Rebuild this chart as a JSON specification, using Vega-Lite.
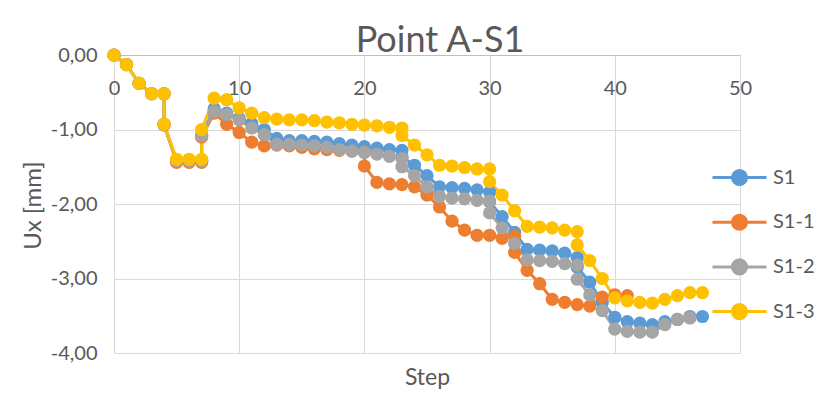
{
  "$schema": "https://vega.github.io/schema/vega-lite/v6.json",
  "autosize": {"type": "none"},
  "width": 626,
  "height": 298,
  "padding": {"left": 114, "top": 55, "right": 89, "bottom": 61},
  "background": "white",
  "title": {
    "text": "Point A-S1",
    "fontSize": 36,
    "font": "Lato",
    "fontWeight": "normal",
    "color": "#595959",
    "anchor": "middle",
    "baseline": "middle",
    "offset": -32,
    "dx": 13
  },
  "config": {
    "view": {"stroke": null},
    "font": "Lato",
    "axis": {"labelFont": "Lato", "titleFont": "Lato"},
    "legend": {"labelFont": "Lato"}
  },
  "data": {
    "values": [
      {"s": "S1", "x": 0, "y": 0}, {"s": "S1", "x": 1, "y": -0.13}, {"s": "S1", "x": 2, "y": -0.38}, {"s": "S1", "x": 3, "y": -0.52},
      {"s": "S1", "x": 4, "y": -0.52}, {"s": "S1", "x": 4, "y": -0.93}, {"s": "S1", "x": 5, "y": -1.42}, {"s": "S1", "x": 6, "y": -1.42},
      {"s": "S1", "x": 7, "y": -1.42}, {"s": "S1", "x": 7, "y": -1.08}, {"s": "S1", "x": 8, "y": -0.72}, {"s": "S1", "x": 9, "y": -0.78},
      {"s": "S1", "x": 10, "y": -0.85}, {"s": "S1", "x": 11, "y": -0.92}, {"s": "S1", "x": 12, "y": -1.0}, {"s": "S1", "x": 13, "y": -1.12},
      {"s": "S1", "x": 14, "y": -1.15}, {"s": "S1", "x": 15, "y": -1.15}, {"s": "S1", "x": 16, "y": -1.16}, {"s": "S1", "x": 17, "y": -1.17},
      {"s": "S1", "x": 18, "y": -1.19}, {"s": "S1", "x": 19, "y": -1.21}, {"s": "S1", "x": 20, "y": -1.23}, {"s": "S1", "x": 21, "y": -1.25},
      {"s": "S1", "x": 22, "y": -1.27}, {"s": "S1", "x": 23, "y": -1.28}, {"s": "S1", "x": 23, "y": -1.37}, {"s": "S1", "x": 24, "y": -1.48},
      {"s": "S1", "x": 25, "y": -1.62}, {"s": "S1", "x": 26, "y": -1.77}, {"s": "S1", "x": 27, "y": -1.78}, {"s": "S1", "x": 28, "y": -1.79},
      {"s": "S1", "x": 29, "y": -1.81}, {"s": "S1", "x": 30, "y": -1.84}, {"s": "S1", "x": 30, "y": -1.97}, {"s": "S1", "x": 31, "y": -2.17},
      {"s": "S1", "x": 32, "y": -2.38}, {"s": "S1", "x": 33, "y": -2.61}, {"s": "S1", "x": 34, "y": -2.62}, {"s": "S1", "x": 35, "y": -2.63},
      {"s": "S1", "x": 36, "y": -2.66}, {"s": "S1", "x": 37, "y": -2.72}, {"s": "S1", "x": 37, "y": -2.85}, {"s": "S1", "x": 38, "y": -3.05},
      {"s": "S1", "x": 39, "y": -3.32}, {"s": "S1", "x": 40, "y": -3.52}, {"s": "S1", "x": 41, "y": -3.58}, {"s": "S1", "x": 42, "y": -3.6},
      {"s": "S1", "x": 43, "y": -3.62}, {"s": "S1", "x": 44, "y": -3.58}, {"s": "S1", "x": 45, "y": -3.55}, {"s": "S1", "x": 46, "y": -3.51},
      {"s": "S1", "x": 47, "y": -3.51},

      {"s": "S1-1", "x": 0, "y": 0}, {"s": "S1-1", "x": 1, "y": -0.13}, {"s": "S1-1", "x": 2, "y": -0.38}, {"s": "S1-1", "x": 3, "y": -0.52},
      {"s": "S1-1", "x": 4, "y": -0.52}, {"s": "S1-1", "x": 4, "y": -0.94}, {"s": "S1-1", "x": 5, "y": -1.44}, {"s": "S1-1", "x": 6, "y": -1.44},
      {"s": "S1-1", "x": 7, "y": -1.44}, {"s": "S1-1", "x": 7, "y": -1.1}, {"s": "S1-1", "x": 8, "y": -0.78}, {"s": "S1-1", "x": 9, "y": -0.93},
      {"s": "S1-1", "x": 10, "y": -1.04}, {"s": "S1-1", "x": 11, "y": -1.17}, {"s": "S1-1", "x": 12, "y": -1.22}, {"s": "S1-1", "x": 13, "y": -1.21},
      {"s": "S1-1", "x": 14, "y": -1.22}, {"s": "S1-1", "x": 15, "y": -1.24}, {"s": "S1-1", "x": 16, "y": -1.26}, {"s": "S1-1", "x": 17, "y": -1.27},
      {"s": "S1-1", "x": 18, "y": -1.28}, {"s": "S1-1", "x": 19, "y": -1.29}, {"s": "S1-1", "x": 20, "y": -1.3}, {"s": "S1-1", "x": 20, "y": -1.49},
      {"s": "S1-1", "x": 21, "y": -1.71}, {"s": "S1-1", "x": 22, "y": -1.73}, {"s": "S1-1", "x": 23, "y": -1.74}, {"s": "S1-1", "x": 24, "y": -1.77},
      {"s": "S1-1", "x": 25, "y": -1.88}, {"s": "S1-1", "x": 26, "y": -2.04}, {"s": "S1-1", "x": 27, "y": -2.23}, {"s": "S1-1", "x": 28, "y": -2.35},
      {"s": "S1-1", "x": 29, "y": -2.42}, {"s": "S1-1", "x": 30, "y": -2.42}, {"s": "S1-1", "x": 31, "y": -2.46}, {"s": "S1-1", "x": 32, "y": -2.43},
      {"s": "S1-1", "x": 32, "y": -2.65}, {"s": "S1-1", "x": 33, "y": -2.89}, {"s": "S1-1", "x": 34, "y": -3.07}, {"s": "S1-1", "x": 35, "y": -3.28},
      {"s": "S1-1", "x": 36, "y": -3.32}, {"s": "S1-1", "x": 37, "y": -3.35}, {"s": "S1-1", "x": 38, "y": -3.37}, {"s": "S1-1", "x": 39, "y": -3.25},
      {"s": "S1-1", "x": 40, "y": -3.22}, {"s": "S1-1", "x": 41, "y": -3.23},

      {"s": "S1-2", "x": 0, "y": 0}, {"s": "S1-2", "x": 1, "y": -0.13}, {"s": "S1-2", "x": 2, "y": -0.38}, {"s": "S1-2", "x": 3, "y": -0.52},
      {"s": "S1-2", "x": 4, "y": -0.52}, {"s": "S1-2", "x": 4, "y": -0.93}, {"s": "S1-2", "x": 5, "y": -1.42}, {"s": "S1-2", "x": 6, "y": -1.42},
      {"s": "S1-2", "x": 7, "y": -1.42}, {"s": "S1-2", "x": 7, "y": -1.08}, {"s": "S1-2", "x": 8, "y": -0.76}, {"s": "S1-2", "x": 9, "y": -0.8},
      {"s": "S1-2", "x": 10, "y": -0.87}, {"s": "S1-2", "x": 11, "y": -0.98}, {"s": "S1-2", "x": 12, "y": -1.07}, {"s": "S1-2", "x": 13, "y": -1.2},
      {"s": "S1-2", "x": 14, "y": -1.2}, {"s": "S1-2", "x": 15, "y": -1.21}, {"s": "S1-2", "x": 16, "y": -1.22}, {"s": "S1-2", "x": 17, "y": -1.24},
      {"s": "S1-2", "x": 18, "y": -1.27}, {"s": "S1-2", "x": 19, "y": -1.29}, {"s": "S1-2", "x": 20, "y": -1.31}, {"s": "S1-2", "x": 21, "y": -1.33},
      {"s": "S1-2", "x": 22, "y": -1.36}, {"s": "S1-2", "x": 23, "y": -1.39}, {"s": "S1-2", "x": 23, "y": -1.5}, {"s": "S1-2", "x": 24, "y": -1.62},
      {"s": "S1-2", "x": 25, "y": -1.77}, {"s": "S1-2", "x": 26, "y": -1.9}, {"s": "S1-2", "x": 27, "y": -1.92}, {"s": "S1-2", "x": 28, "y": -1.93},
      {"s": "S1-2", "x": 29, "y": -1.95}, {"s": "S1-2", "x": 30, "y": -1.96}, {"s": "S1-2", "x": 30, "y": -2.12}, {"s": "S1-2", "x": 31, "y": -2.32},
      {"s": "S1-2", "x": 32, "y": -2.53}, {"s": "S1-2", "x": 33, "y": -2.75}, {"s": "S1-2", "x": 34, "y": -2.76}, {"s": "S1-2", "x": 35, "y": -2.77},
      {"s": "S1-2", "x": 36, "y": -2.8}, {"s": "S1-2", "x": 37, "y": -2.82}, {"s": "S1-2", "x": 37, "y": -3.01}, {"s": "S1-2", "x": 38, "y": -3.22},
      {"s": "S1-2", "x": 39, "y": -3.43}, {"s": "S1-2", "x": 40, "y": -3.68}, {"s": "S1-2", "x": 41, "y": -3.71}, {"s": "S1-2", "x": 42, "y": -3.72},
      {"s": "S1-2", "x": 43, "y": -3.72}, {"s": "S1-2", "x": 44, "y": -3.62}, {"s": "S1-2", "x": 45, "y": -3.55}, {"s": "S1-2", "x": 46, "y": -3.53},

      {"s": "S1-3", "x": 0, "y": 0}, {"s": "S1-3", "x": 1, "y": -0.13}, {"s": "S1-3", "x": 2, "y": -0.38}, {"s": "S1-3", "x": 3, "y": -0.52},
      {"s": "S1-3", "x": 4, "y": -0.52}, {"s": "S1-3", "x": 4, "y": -0.93}, {"s": "S1-3", "x": 5, "y": -1.4}, {"s": "S1-3", "x": 6, "y": -1.4},
      {"s": "S1-3", "x": 7, "y": -1.4}, {"s": "S1-3", "x": 7, "y": -1.0}, {"s": "S1-3", "x": 8, "y": -0.58}, {"s": "S1-3", "x": 9, "y": -0.6},
      {"s": "S1-3", "x": 10, "y": -0.71}, {"s": "S1-3", "x": 11, "y": -0.78}, {"s": "S1-3", "x": 12, "y": -0.84}, {"s": "S1-3", "x": 13, "y": -0.86},
      {"s": "S1-3", "x": 14, "y": -0.87}, {"s": "S1-3", "x": 15, "y": -0.87}, {"s": "S1-3", "x": 16, "y": -0.88}, {"s": "S1-3", "x": 17, "y": -0.9},
      {"s": "S1-3", "x": 18, "y": -0.91}, {"s": "S1-3", "x": 19, "y": -0.93}, {"s": "S1-3", "x": 20, "y": -0.94}, {"s": "S1-3", "x": 21, "y": -0.95},
      {"s": "S1-3", "x": 22, "y": -0.97}, {"s": "S1-3", "x": 23, "y": -0.98}, {"s": "S1-3", "x": 23, "y": -1.08}, {"s": "S1-3", "x": 24, "y": -1.21},
      {"s": "S1-3", "x": 25, "y": -1.34}, {"s": "S1-3", "x": 26, "y": -1.48}, {"s": "S1-3", "x": 27, "y": -1.49}, {"s": "S1-3", "x": 28, "y": -1.51},
      {"s": "S1-3", "x": 29, "y": -1.53}, {"s": "S1-3", "x": 30, "y": -1.53}, {"s": "S1-3", "x": 30, "y": -1.7}, {"s": "S1-3", "x": 31, "y": -1.88},
      {"s": "S1-3", "x": 32, "y": -2.09}, {"s": "S1-3", "x": 33, "y": -2.3}, {"s": "S1-3", "x": 34, "y": -2.31}, {"s": "S1-3", "x": 35, "y": -2.32},
      {"s": "S1-3", "x": 36, "y": -2.35}, {"s": "S1-3", "x": 37, "y": -2.37}, {"s": "S1-3", "x": 37, "y": -2.55}, {"s": "S1-3", "x": 38, "y": -2.76},
      {"s": "S1-3", "x": 39, "y": -3.0}, {"s": "S1-3", "x": 40, "y": -3.26}, {"s": "S1-3", "x": 41, "y": -3.3}, {"s": "S1-3", "x": 42, "y": -3.32},
      {"s": "S1-3", "x": 43, "y": -3.33}, {"s": "S1-3", "x": 44, "y": -3.28}, {"s": "S1-3", "x": 45, "y": -3.23}, {"s": "S1-3", "x": 46, "y": -3.19},
      {"s": "S1-3", "x": 47, "y": -3.19}
    ]
  },
  "mark": {
    "type": "line",
    "strokeWidth": 3,
    "point": {"filled": true, "size": 175, "strokeWidth": 0}
  },
  "encoding": {
    "x": {
      "field": "x",
      "type": "quantitative",
      "scale": {"domain": [0, 50], "nice": false, "zero": false},
      "axis": {
        "orient": "top",
        "title": "Step",
        "titleFontSize": 23,
        "titleFontWeight": "normal",
        "titleColor": "#595959",
        "titleBaseline": "middle",
        "titleY": 322,
        "values": [0, 10, 20, 30, 40, 50],
        "labelFontSize": 20,
        "labelColor": "#595959",
        "labelBaseline": "middle",
        "labelPadding": -33,
        "labelFlush": false,
        "ticks": false,
        "tickSize": 0,
        "domainColor": "#BFBFBF",
        "domainWidth": 1,
        "gridColor": "#D9D9D9",
        "gridWidth": 1
      }
    },
    "y": {
      "field": "y",
      "type": "quantitative",
      "scale": {"domain": [-4, 0], "nice": false, "zero": false},
      "axis": {
        "title": "Ux [mm]",
        "titleFontSize": 24,
        "titleFontWeight": "normal",
        "titleColor": "#595959",
        "titleX": -81,
        "titleY": 150,
        "titleBaseline": "middle",
        "titleAngle": -90,
        "values": [-4, -3, -2, -1, 0],
        "labelExpr": "(datum.value < 0 ? '-' : '') + replace(format(abs(datum.value), '.2f'), '.', ',')",
        "labelFontSize": 20,
        "labelColor": "#595959",
        "labelPadding": 17,
        "labelFlush": false,
        "ticks": false,
        "tickSize": 0,
        "domain": false,
        "gridColor": "#D9D9D9",
        "gridWidth": 1
      }
    },
    "color": {
      "field": "s",
      "type": "nominal",
      "scale": {"domain": ["S1", "S1-1", "S1-2", "S1-3"], "range": ["#5B9BD5", "#ED7D31", "#A5A5A5", "#FFC000"]},
      "legend": {
        "title": null,
        "orient": "none",
        "legendX": 609,
        "legendY": 106,
        "padding": 0,
        "symbolType": "M-1.8,0H1.8M0.47,0A0.47,0.47 0 1,1 -0.47,0A0.47,0.47 0 1,1 0.47,0",
        "symbolSize": 900,
        "symbolStrokeWidth": 3,
        "labelFontSize": 20,
        "labelColor": "#595959",
        "labelOffset": 17,
        "rowPadding": 14.7,
        "encode": {
          "symbols": {
            "update": {
              "fill": {"scale": "color", "field": "value"},
              "stroke": {"scale": "color", "field": "value"},
              "opacity": {"value": 1}
            }
          }
        }
      }
    },
    "order": {"value": null}
  }
}
